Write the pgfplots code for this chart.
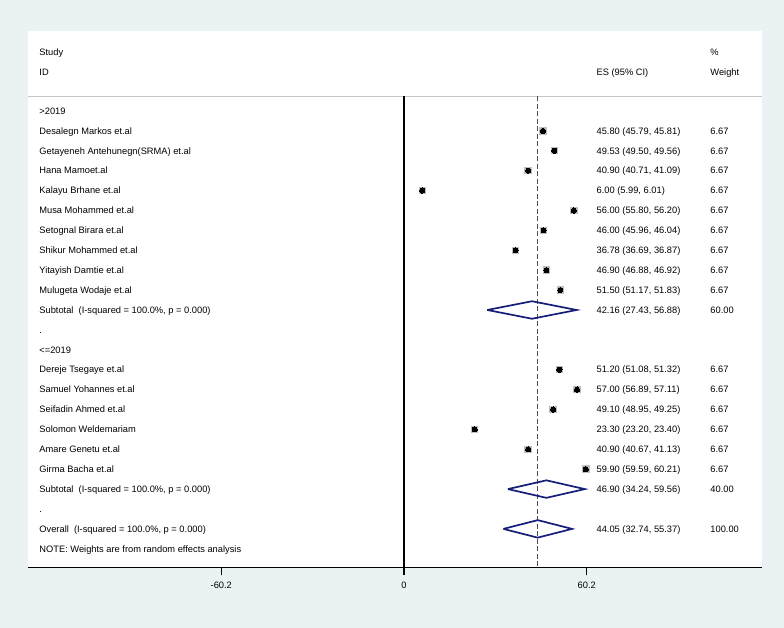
\documentclass[border=0pt]{standalone}
\usepackage{pgfplots}
\usepackage{pgfplotstable}
\pgfplotsset{compat=1.18}
\usepackage{fontspec}
\setmainfont{Liberation Sans}
\definecolor{bgc}{RGB}{234,242,243}
\definecolor{navyd}{RGB}{22,30,120}
\definecolor{dashred}{RGB}{205,20,40}
\definecolor{boxg}{RGB}{190,190,190}
\newcommand\fs{\fontsize{9.3}{11}\selectfont}

\pgfplotstableread{
es    y    ep    em
45.80 -1  0.01 0.01
49.53 -2  0.03 0.03
40.90 -3  0.19 0.19
6.00  -4  0.01 0.01
56.00 -5  0.20 0.20
46.00 -6  0.04 0.04
36.78 -7  0.09 0.09
46.90 -8  0.02 0.02
51.50 -9  0.33 0.33
51.20 -13 0.12 0.12
57.00 -14 0.11 0.11
49.10 -15 0.15 0.15
23.30 -16 0.10 0.10
40.90 -17 0.23 0.23
59.90 -18 0.31 0.31
}\studies

\begin{document}
\begin{tikzpicture}[x=1pt,y=1pt]
\fill[bgc] (0,0) rectangle (784,628);
\useasboundingbox (0,0) rectangle (784,628);
\begin{axis}[
  at={(28pt,60.5pt)}, anchor=south west,
  width=734pt, height=536.5pt, scale only axis,
  xmin=-123.9, xmax=117.96,
  ymin=-22.94, ymax=4.02,
  axis background/.style={fill=white},
  axis x line=bottom, axis y line=none,
  axis line style={-, line width=1.3pt, black},
  xtick={-60.2,0,60.2}, xticklabels={-60.2,0,60.2},
  tick align=outside, major tick length=8pt,
  tick style={line width=1.1pt, black},
  xticklabel style={font=\fs, yshift=-3pt},
  clip=false,
]
% header separator
\addplot[draw=black!22, line width=1.6pt] coordinates {(-123.9,0.729) (117.96,0.729)};
% null line and overall line
\addplot[draw=black, line width=1.3pt] coordinates {(0,0.729) (0,-22.94)};
\addplot[draw=dashred, color=dashred, line width=1.4pt, dash pattern=on 5pt off 2.5pt] coordinates {(44.05,0.729) (44.05,-22.94)};
% study boxes
\addplot[only marks, mark=square*, mark size=3.2pt, mark options={draw=boxg, fill=boxg, line width=0pt}] table[x=es, y=y] {\studies};
\addplot[only marks, mark=*, mark size=2.6pt, mark options={draw=black, fill=black, line width=0pt},
  error bars/.cd, x dir=both, x explicit, error mark=none, error bar style={black, line width=0.6pt}]
  table[x=es, y=y, x error plus=ep, x error minus=em] {\studies};
% diamonds
\addplot[draw=navyd, line width=1.7pt] coordinates {(27.43,-10) (42.16,-9.56) (56.88,-10) (42.16,-10.44) (27.43,-10)};
\addplot[draw=navyd, line width=1.7pt] coordinates {(34.24,-19) (46.90,-18.56) (59.56,-19) (46.90,-19.44) (34.24,-19)};
\addplot[draw=navyd, line width=1.7pt] coordinates {(32.74,-21) (44.05,-20.56) (55.37,-21) (44.05,-21.44) (32.74,-21)};

\begin{scope}[every node/.style={anchor=base west, yshift=-3.3pt, font=\fs, inner sep=0pt}]
% left column text
\node at (axis cs:-120.2,2.965) {Study};
\node at (axis cs:-120.2,1.96) {ID};
\node at (axis cs:-120.2,0) {>2019};
\node at (axis cs:-120.2,-1) {Desalegn Markos et.al};
\node at (axis cs:-120.2,-2) {Getayeneh Antehunegn(SRMA) et.al};
\node at (axis cs:-120.2,-3) {Hana Mamoet.al};
\node at (axis cs:-120.2,-4) {Kalayu Brhane et.al};
\node at (axis cs:-120.2,-5) {Musa Mohammed et.al};
\node at (axis cs:-120.2,-6) {Setognal Birara et.al};
\node at (axis cs:-120.2,-7) {Shikur Mohammed et.al};
\node at (axis cs:-120.2,-8) {Yitayish Damtie et.al};
\node at (axis cs:-120.2,-9) {Mulugeta Wodaje et.al};
\node at (axis cs:-120.2,-10) {Subtotal\ \ (I-squared = 100.0\%, p = 0.000)};
\node at (axis cs:-120.2,-11) {.};
\node at (axis cs:-120.2,-12) {<=2019};
\node at (axis cs:-120.2,-13) {Dereje Tsegaye et.al};
\node at (axis cs:-120.2,-14) {Samuel Yohannes et.al};
\node at (axis cs:-120.2,-15) {Seifadin Ahmed et.al};
\node at (axis cs:-120.2,-16) {Solomon Weldemariam};
\node at (axis cs:-120.2,-17) {Amare Genetu et.al};
\node at (axis cs:-120.2,-18) {Girma Bacha et.al};
\node at (axis cs:-120.2,-19) {Subtotal\ \ (I-squared = 100.0\%, p = 0.000)};
\node at (axis cs:-120.2,-20) {.};
\node at (axis cs:-120.2,-21) {Overall\ \ (I-squared = 100.0\%, p = 0.000)};
\node at (axis cs:-120.2,-22) {NOTE: Weights are from random effects analysis};
% ES column
\node at (axis cs:63.4,1.96) {ES (95\% CI)};
\node at (axis cs:63.4,-1) {45.80 (45.79, 45.81)};
\node at (axis cs:63.4,-2) {49.53 (49.50, 49.56)};
\node at (axis cs:63.4,-3) {40.90 (40.71, 41.09)};
\node at (axis cs:63.4,-4) {6.00 (5.99, 6.01)};
\node at (axis cs:63.4,-5) {56.00 (55.80, 56.20)};
\node at (axis cs:63.4,-6) {46.00 (45.96, 46.04)};
\node at (axis cs:63.4,-7) {36.78 (36.69, 36.87)};
\node at (axis cs:63.4,-8) {46.90 (46.88, 46.92)};
\node at (axis cs:63.4,-9) {51.50 (51.17, 51.83)};
\node at (axis cs:63.4,-10) {42.16 (27.43, 56.88)};
\node at (axis cs:63.4,-13) {51.20 (51.08, 51.32)};
\node at (axis cs:63.4,-14) {57.00 (56.89, 57.11)};
\node at (axis cs:63.4,-15) {49.10 (48.95, 49.25)};
\node at (axis cs:63.4,-16) {23.30 (23.20, 23.40)};
\node at (axis cs:63.4,-17) {40.90 (40.67, 41.13)};
\node at (axis cs:63.4,-18) {59.90 (59.59, 60.21)};
\node at (axis cs:63.4,-19) {46.90 (34.24, 59.56)};
\node at (axis cs:63.4,-21) {44.05 (32.74, 55.37)};
% weight column
\node at (axis cs:100.9,2.965) {\%};
\node at (axis cs:100.9,1.96) {Weight};
\node at (axis cs:100.9,-1) {6.67};
\node at (axis cs:100.9,-2) {6.67};
\node at (axis cs:100.9,-3) {6.67};
\node at (axis cs:100.9,-4) {6.67};
\node at (axis cs:100.9,-5) {6.67};
\node at (axis cs:100.9,-6) {6.67};
\node at (axis cs:100.9,-7) {6.67};
\node at (axis cs:100.9,-8) {6.67};
\node at (axis cs:100.9,-9) {6.67};
\node at (axis cs:100.9,-10) {60.00};
\node at (axis cs:100.9,-13) {6.67};
\node at (axis cs:100.9,-14) {6.67};
\node at (axis cs:100.9,-15) {6.67};
\node at (axis cs:100.9,-16) {6.67};
\node at (axis cs:100.9,-17) {6.67};
\node at (axis cs:100.9,-18) {6.67};
\node at (axis cs:100.9,-19) {40.00};
\node at (axis cs:100.9,-21) {100.00};
\end{scope}
\end{axis}
\end{tikzpicture}
\end{document}
